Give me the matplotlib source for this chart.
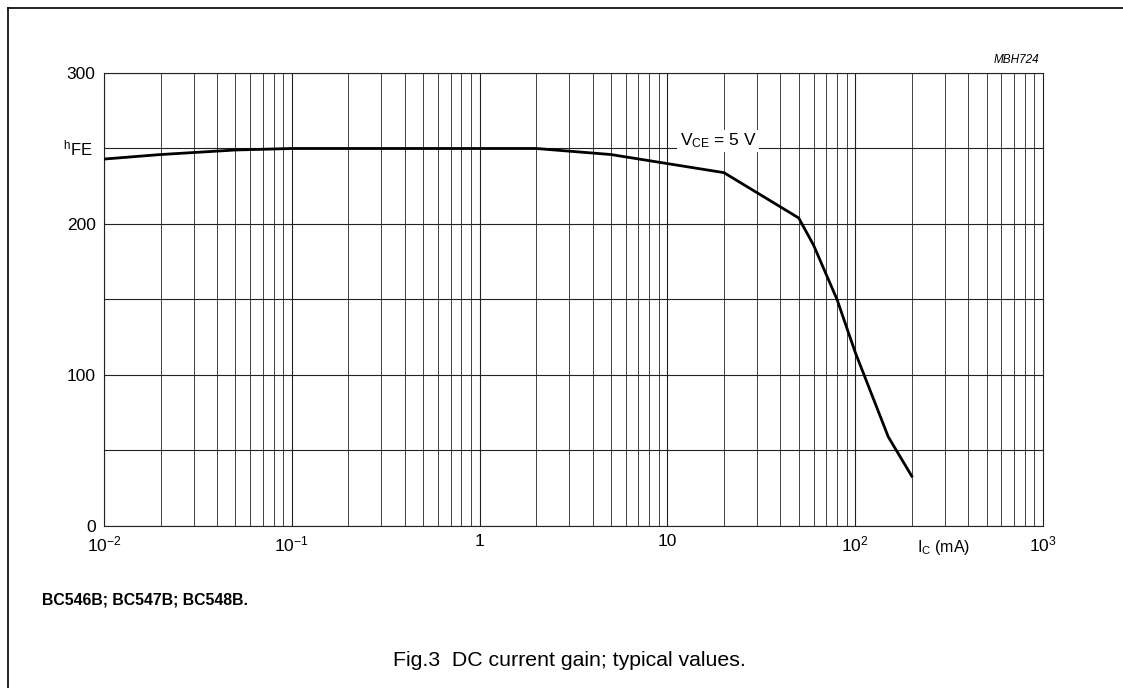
import numpy as np
import matplotlib.pyplot as plt
from matplotlib.lines import Line2D

plt.rcParams['font.family'] = ['Liberation Sans', 'DejaVu Sans']
plt.rcParams['mathtext.fontset'] = 'custom'
plt.rcParams['mathtext.rm'] = 'Liberation Sans'
plt.rcParams['mathtext.it'] = 'Liberation Sans:italic'

# collector current (mA) and dc current gain
ic = [0.01, 0.02, 0.05, 0.1, 0.3, 1, 2, 5, 10, 20, 50, 60, 80, 100, 150, 200]
hfe = [243, 246, 249, 250, 250, 250, 250, 246, 240, 234, 204, 186, 150, 115, 59, 33]

xticks = [1e-2, 1e-1, 1, 10, 1e2, 1e3]
xlabels = ['$\\mathregular{10^{-2}}$', '$\\mathregular{10^{-1}}$', '1', '10',
           '$\\mathregular{10^{2}}$', '$\\mathregular{10^{3}}$']
yticks = [0, 100, 200, 300]

fig = plt.figure(figsize=(11.23, 6.88), dpi=100)
ax = fig.add_axes([0.0926, 0.2355, 0.8362, 0.6584])

# grid: every 1..9 per decade, every 50 in hFE
for dec in range(-2, 3):
    for m in range(1, 10):
        x = m * 10.0 ** dec
        ax.axvline(x, color='#222222', lw=0.8 if m == 1 else 0.6, zorder=1)
for y in range(0, 301, 50):
    ax.axhline(y, color='#222222', lw=0.8, zorder=1)

ax.plot(ic, hfe, color='black', lw=2.0, zorder=3)

ax.set_xscale('log')
ax.set_xlim(1e-2, 1e3)
ax.set_ylim(0, 300)
ax.set_xticks(xticks)
ax.set_xticklabels(xlabels)
ax.xaxis.set_minor_locator(plt.NullLocator())
ax.set_yticks(yticks)
ax.tick_params(length=0, labelsize=12.5, pad=6)
for s in ax.spines.values():
    s.set_linewidth(0.8)
    s.set_color('#222222')

ax.text(-0.012, 250, r'$\mathregular{^{h}FE}$', transform=ax.get_yaxis_transform(),
        ha='right', va='center', fontsize=12)
ax.text(297, -14, r'I$_\mathregular{C}$ (mA)', ha='center', va='center', fontsize=11.5)
ax.text(11.6, 255, r'V$_\mathregular{CE}$ = 5 V', fontsize=12.5, ha='left', va='center',
        zorder=4, bbox=dict(facecolor='white', edgecolor='none', pad=1.5))
ax.text(0.996, 1.015, 'MBH724', transform=ax.transAxes, ha='right', va='bottom',
        fontsize=8.5, style='italic')

fig.text(42 / 1123, 1 - 600 / 688, 'BC546B; BC547B; BC548B.', fontsize=11.4,
         fontweight='bold', ha='left', va='center')
fig.text(569 / 1123, 1 - 660 / 688, 'Fig.3  DC current gain; typical values.',
         fontsize=15.3, ha='center', va='center')

# page frame
fig.add_artist(Line2D([8 / 1123, 8 / 1123], [0, 1 - 8 / 688], color='black', lw=1.2))
fig.add_artist(Line2D([8 / 1123, 1], [1 - 8 / 688, 1 - 8 / 688], color='black', lw=1.2))

fig.savefig('out.png', dpi=100)
